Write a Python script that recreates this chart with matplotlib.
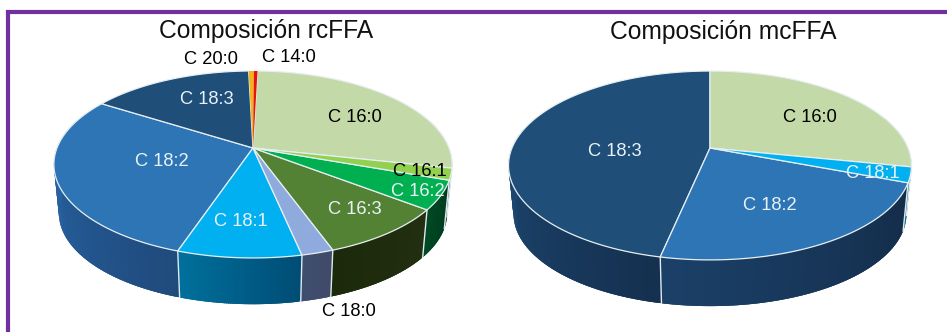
import numpy as np
import matplotlib
matplotlib.use("Agg")
import matplotlib.pyplot as plt
from matplotlib.collections import PolyCollection
from matplotlib.colors import to_rgb
from matplotlib.patches import Polygon

plt.rcParams['font.family'] = ['Liberation Sans', 'DejaVu Sans']

# percentages, clockwise from 12 o'clock
rc_names = ["C 14:0", "C 16:0", "C 16:1", "C 16:2", "C 16:3", "C 18:0", "C 18:1", "C 18:2", "C 18:3", "C 20:0"]
rc_values = [0.35, 28.0, 2.0, 5.0, 9.05, 2.2, 8.5, 28.8, 15.6, 0.5]
mc_names = ["C 16:0", "C 18:1", "C 18:2", "C 18:3"]
mc_values = [28.2, 2.6, 22.5, 46.7]

# top face colour, then wall gradient (left end, right end)
style = {
    "C 14:0": ("#e8140c", "#8a0c08", "#8a0c08"),
    "C 16:0": ("#c3d9a8", "#5f6e4a", "#5f6e4a"),
    "C 16:1": ("#92d050", "#1d3a1c", "#1d3a1c"),
    "C 16:2": ("#00b050", "#004a25", "#00391c"),
    "C 16:3": ("#548235", "#1c2a0c", "#222f10"),
    "C 18:0": ("#8faadc", "#3f4e70", "#404a68"),
    "C 18:1": ("#00b0f0", "#00709c", "#004c74"),
    "C 18:2": ("#2e75b6", "#2a6cb0", "#1f4a7c"),
    "C 18:3": ("#1f4e79", "#1f4e7c", "#15304f"),
    "C 20:0": ("#f0b619", "#8a6a10", "#8a6a10"),
}
# the right pie has its C 18:2 wall in the darker navy
mc_walls = {"C 18:2": ("#1b4068", "#132c48"), "C 18:3": ("#1f4e7c", "#15304f")}

rc_label_pos = {
    "C 14:0": (289, 57, "black"), "C 16:0": (355, 117, "black"), "C 16:1": (420, 171, "black"),
    "C 16:2": (418, 192, "#e8f2f6"), "C 16:3": (355, 210, "#e8f2f6"), "C 18:0": (349, 312, "black"),
    "C 18:1": (241, 222, "#e8f2f6"), "C 18:2": (162, 162, "#e8f2f6"), "C 18:3": (207, 100, "#e8f2f6"),
    "C 20:0": (211, 59, "black"),
}
mc_label_pos = {
    "C 16:0": (810, 117, "black"), "C 18:1": (873, 173, "#e8f2f6"),
    "C 18:2": (770, 206, "#e8f2f6"), "C 18:3": (615, 151, "#e8f2f6"),
}


def project(deg, g):
    # perspective view of a flat disc, angle clockwise from the top
    th = np.radians(deg)
    u, v = np.sin(th), np.cos(th)
    w = 1 + g["k"] * v
    return g["cx"] + g["R"] * u / w, g["cy"] - g["S"] * v / w


def draw_pie(ax, names, values, start, g, walls=None):
    edges = start + np.concatenate([[0], np.cumsum(values)]) * 360 / np.sum(values)
    base = dict(g, R=g["R"] * 0.975, S=g["S"] * 0.975, cy=g["cy"] + g["depth"])

    # side wall, built from overlapping strips so the gradient runs along it
    for name, a0, a1 in zip(names, edges[:-1], edges[1:]):
        lo, hi = max(a0, 70), min(a1, 290)
        if lo >= hi:
            continue
        left, right = style[name][1:]
        if walls and name in walls:
            left, right = walls[name]
        left, right = np.array(to_rgb(left)), np.array(to_rgb(right))
        steps = np.linspace(lo, hi, max(int(hi - lo) * 2, 2) + 1)
        quads, cols = [], []
        for s0, s1 in zip(steps[:-1], steps[1:]):
            s1 = min(s1 + 0.8, hi)
            xt0, yt0 = project(s0, g)
            xt1, yt1 = project(s1, g)
            xb0, yb0 = project(s0, base)
            xb1, yb1 = project(s1, base)
            quads.append([(xt0, yt0), (xt1, yt1), (xb1, yb1), (xb0, yb0)])
            # clockwise angles run right to left along the front
            f = (hi - (s0 + s1) / 2) / (hi - lo)
            cols.append(left + (right - left) * f)
        ax.add_collection(PolyCollection(quads, facecolors=cols, edgecolors="none", zorder=2))

    # thin light seams where slices meet on the wall
    for a in edges:
        if 100 < (a % 360) < 260:
            xt, yt = project(a, g)
            xb, yb = project(a, base)
            ax.plot([xt, xb], [yt, yb], color="#dfe9f0", lw=1.0, zorder=3)

    # top face, the very narrow slices go on last without an outline
    order = sorted(zip(names, edges[:-1], edges[1:]), key=lambda s: s[1] - s[2])
    for name, a0, a1 in order:
        arc = np.linspace(a0, a1, max(int(a1 - a0) * 2, 2) + 1)
        xs, ys = project(arc, g)
        pts = [(g["cx"], g["cy"])] + list(zip(xs, ys))
        narrow = a1 - a0 < 3
        ax.add_patch(Polygon(pts, closed=True, facecolor=style[name][0], edgecolor="none" if narrow else "#e6eef2",
                             lw=0.9, zorder=4))


rc_geom = dict(cx=253.0, cy=148.0, R=196.0, S=90.6, k=0.176, depth=49.0)
mc_geom = dict(cx=710.0, cy=148.0, R=198.0, S=91.2, k=0.185, depth=49.0)

fig = plt.figure(figsize=(9.47, 3.32), dpi=100)
ax = fig.add_axes([0, 0, 1, 1])
ax.set_xlim(0, 947)
ax.set_ylim(332, 0)
ax.axis("off")

# purple frame, open on the right and at the bottom
ax.plot([8, 8, 960], [340, 12, 12], color="#7030a0", lw=3.0, solid_joinstyle="miter", zorder=1)

draw_pie(ax, rc_names, rc_values, 0.3, rc_geom)
draw_pie(ax, mc_names, mc_values, 0.0, mc_geom, mc_walls)

ax.text(266, 31, "Composición rcFFA", fontsize=17.7, ha="center", va="center", color="#111111", zorder=6)
ax.text(723, 32, "Composición mcFFA", fontsize=17.7, ha="center", va="center", color="#111111", zorder=6)

for pos in (rc_label_pos, mc_label_pos):
    for name, (x, y, col) in pos.items():
        ax.text(x, y, name, fontsize=13.2, ha="center", va="center", color=col, zorder=6)

fig.savefig("out.png", dpi=100, facecolor="white")
